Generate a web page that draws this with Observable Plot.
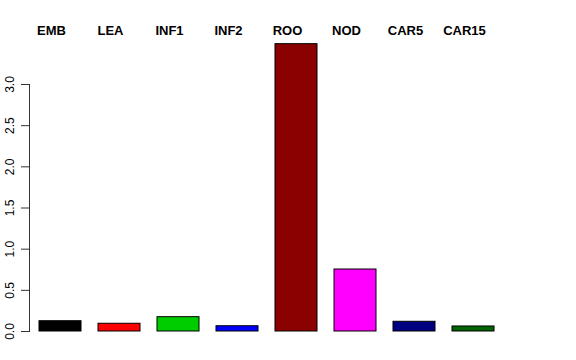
<!DOCTYPE html>
<html>
<head>
<meta charset="utf-8">
<script src="https://cdn.jsdelivr.net/npm/d3@7"></script>
<script src="https://cdn.jsdelivr.net/npm/@observablehq/plot@0.6"></script>
<style>
  html, body { margin: 0; padding: 0; background: #fff; }
  svg { display: block; }
</style>
</head>
<body>
<div id="chart"></div>
<script>
const categories = ["EMB", "LEA", "INF1", "INF2", "ROO", "NOD", "CAR5", "CAR15"];
const values = [0.125, 0.094, 0.174, 0.064, 3.49, 0.753, 0.118, 0.061];
const barColors = ["#000000", "#FF0000", "#00CD00", "#0000FF", "#8B0000", "#FF00FF", "#000080", "#006400"];
const yTicks = [0, 0.5, 1.0, 1.5, 2.0, 2.5, 3.0];

const table = categories.map((c, i) => ({ category: c, value: values[i], color: barColors[i] }));

const chart = Plot.plot({
  width: 576,
  height: 360,
  marginLeft: 29,
  marginRight: 0,
  marginTop: 84,
  marginBottom: 29,
  style: { fontFamily: "'Liberation Sans', Arial, Helvetica, sans-serif", background: "#fff", color: "#000" },
  x: { domain: categories, range: [21.3, 511.9], padding: 0.287, align: 0.5 },
  y: { domain: [0, 3] },
  color: { type: "identity" },
  marks: [
    Plot.barY(table, { x: "category", y: "value", fill: "color", stroke: "#000", strokeWidth: 1 }),
    Plot.frame({ anchor: "left", stroke: "#333" }),
    Plot.axisY({
      ticks: yTicks,
      tickFormat: d3.format(".1f"),
      tickRotate: -90,
      tickSize: 8,
      tickPadding: 8,
      fontSize: 12,
      stroke: "#333",
      label: null
    }),
    Plot.axisX({
      anchor: "top",
      tickSize: 0,
      tickPadding: 50,
      fontSize: 13,
      fontWeight: "bold",
      dx: -9,
      label: null
    })
  ]
});
document.getElementById("chart").appendChild(chart);
</script>
</body>
</html>
